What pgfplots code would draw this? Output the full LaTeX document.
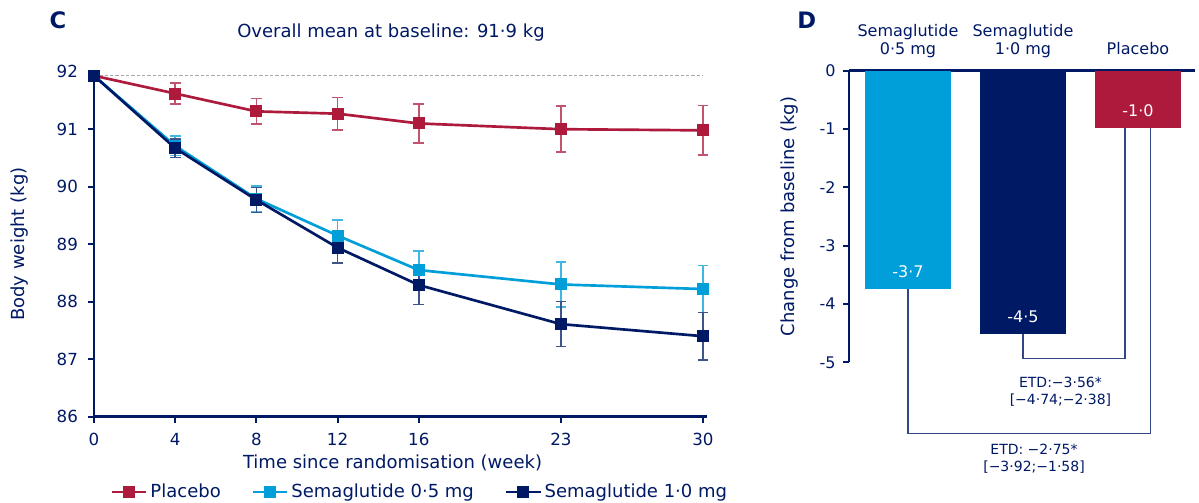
\documentclass[border=0pt]{standalone}
\usepackage{pgfplots}
\pgfplotsset{compat=1.18}
\usepackage{fontspec}
\setmainfont{DejaVu Sans}
\definecolor{navy}{RGB}{0,25,101}
\definecolor{sky}{RGB}{0,159,218}
\definecolor{crim}{RGB}{173,26,60}
\newcommand{\fs}{\fontsize{12pt}{13.5pt}\selectfont}
\newcommand{\fl}{\fontsize{13.5pt}{15pt}\selectfont}
\newcommand{\ft}{\fontsize{12.5pt}{14pt}\selectfont}
\begin{document}
\begin{tikzpicture}[x=0.75pt,y=0.75pt]
\useasboundingbox (0,0) rectangle (1199,503);
\node[font=\fontsize{17pt}{17pt}\selectfont\bfseries, text=navy] at (58,483) {C};
\node[font=\fontsize{17pt}{17pt}\selectfont\bfseries, text=navy] at (806.7,483) {D};
\node[font=\fl, text=navy] at (391,470) {Overall mean at baseline: 91·9 kg};
\begin{axis}[
  at={(70.5pt,64.725pt)}, anchor=south west, scale only axis,
  width=459.75pt, height=258.75pt,
  xmin=0, xmax=30.2, ymin=86, ymax=92,
  axis lines*=left,
  axis line style={navy, line width=2pt},
  clip=false,
  tick align=outside, major tick length=4.5pt,
  tick style={navy, line width=1.5pt},
  xtick={0,4,8,12,16,23,30}, ytick={86,87,...,92},
  /pgf/number format/assume math mode=true,
  tick label style={font=\ft, text=navy},
  yticklabel style={xshift=-4pt},
  xticklabel style={yshift=-4.5pt},
  xlabel={Time since randomisation (week)},
  ylabel={Body weight (kg)},
  label style={font=\fl, text=navy},
  xlabel style={at={(axis description cs:0.487,-0.133)}, anchor=center},
  ylabel style={at={(axis description cs:-0.121,0.5)}, anchor=center},
  legend style={at={(axis description cs:0.532,-0.218)}, anchor=center, draw=none, fill=none,
    font=\fl, text=navy, legend columns=3,
    /tikz/every even column/.append style={column sep=21pt}},
  legend image code/.code={\draw[mark repeat=2,mark phase=2] plot coordinates {(0pt,0pt) (13pt,0pt) (26pt,0pt)};},
]
\addplot[forget plot, color=black!35, dash pattern=on 2.5pt off 1.5pt, line width=0.7pt] coordinates {(0,91.93) (30,91.93)};
\addplot[color=crim, line width=2pt, mark=square*, mark size=3.5pt,
  error bars/.cd, y dir=both, y explicit,
  error bar style={crim!75, line width=1.1pt},
  error mark options={rotate=90, crim!75, line width=1.1pt, mark size=4pt}]
coordinates {
 (0,91.93) +- (0,0)
 (4,91.62) +- (0,0.18)
 (8,91.31) +- (0,0.22)
 (12,91.27) +- (0,0.28)
 (16,91.10) +- (0,0.34)
 (23,91.00) +- (0,0.40)
 (30,90.98) +- (0,0.43)
};
\addlegendentry{Placebo}
\addplot[color=sky, line width=2pt, mark=square*, mark size=3.5pt,
  error bars/.cd, y dir=both, y explicit,
  error bar style={sky!75, line width=1.1pt},
  error mark options={rotate=90, sky!75, line width=1.1pt, mark size=4pt}]
coordinates {
 (0,91.93) +- (0,0)
 (4,90.71) +- (0,0.17)
 (8,89.79) +- (0,0.22)
 (12,89.15) +- (0,0.27)
 (16,88.55) +- (0,0.33)
 (23,88.30) +- (0,0.39)
 (30,88.22) +- (0,0.41)
};
\addlegendentry{Semaglutide 0·5 mg}
\addplot[color=navy, line width=2pt, mark=square*, mark size=3.5pt,
  error bars/.cd, y dir=both, y explicit,
  error bar style={navy!75, line width=1.1pt},
  error mark options={rotate=90, navy!75, line width=1.1pt, mark size=4pt}]
coordinates {
 (0,91.93) +- (0,0)
 (4,90.67) +- (0,0.16)
 (8,89.77) +- (0,0.22)
 (12,88.94) +- (0,0.27)
 (16,88.29) +- (0,0.34)
 (23,87.61) +- (0,0.39)
 (30,87.40) +- (0,0.41)
};
\addlegendentry{Semaglutide 1·0 mg}
\end{axis}
\begin{axis}[
  at={(636.75pt,105.525pt)}, anchor=south west, scale only axis,
  width=259.5pt, height=218.7pt,
  xmin=-0.513, xmax=2.496, ymin=-5, ymax=0,
  axis x line*=top, axis y line*=left,
  axis line style={navy, line width=2pt},
  clip=false,
  bar width=0.748,
  tick align=outside, major tick length=4.5pt,
  tick style={navy, line width=1.5pt},
  xtick={0,1,2},
  xticklabels={{Semaglutide\\0·5 mg\strut},{Semaglutide\\1·0 mg\strut},{Placebo\strut}},
  xtick style={draw=none},
  xticklabel style={align=center, font=\fs, text=navy},
  ytick={0,-1,-2,-3,-4,-5}, yticklabels={0,-1,-2,-3,-4,-5},
  yticklabel style={font=\fs, text=navy, xshift=-2pt},
  ylabel={Change from baseline (kg)},
  ylabel style={at={(axis description cs:-0.1705,0.5)}, anchor=center, font=\fl, text=navy},
]
\addplot[ybar, bar shift=0pt, fill=sky, draw=none] coordinates {(0,-3.74)};
\addplot[ybar, bar shift=0pt, fill=navy, draw=none] coordinates {(1,-4.52)};
\addplot[ybar, bar shift=0pt, fill=crim, draw=none] coordinates {(2,-0.98)};
\addplot[sharp plot, no marks, navy!80, line width=0.9pt] coordinates {(1,-4.52) (1,-4.93) (1.887,-4.93) (1.887,-0.98)};
\addplot[sharp plot, no marks, navy!80, line width=0.9pt] coordinates {(0,-3.74) (0,-6.22) (2.11,-6.22) (2.11,-0.98)};
\node[font=\fs, text=white] at (axis cs:0,-3.44) {-3·7};
\node[font=\fs, text=white] at (axis cs:1,-4.22) {-4·5};
\node[font=\fs, text=white] at (axis cs:2,-0.68) {-1·0};
\node[font=\fontsize{10.5pt}{12.75pt}\selectfont, text=navy, align=center] at (axis cs:1.326,-5.50) {ETD:−3·56*\\{[}−4·74;−2·38{]}};
\node[font=\fontsize{10.5pt}{12.75pt}\selectfont, text=navy, align=center] at (axis cs:1.096,-6.65) {ETD: −2·75*\\{[}−3·92;−1·58{]}};
\end{axis}
\end{tikzpicture}
\end{document}
